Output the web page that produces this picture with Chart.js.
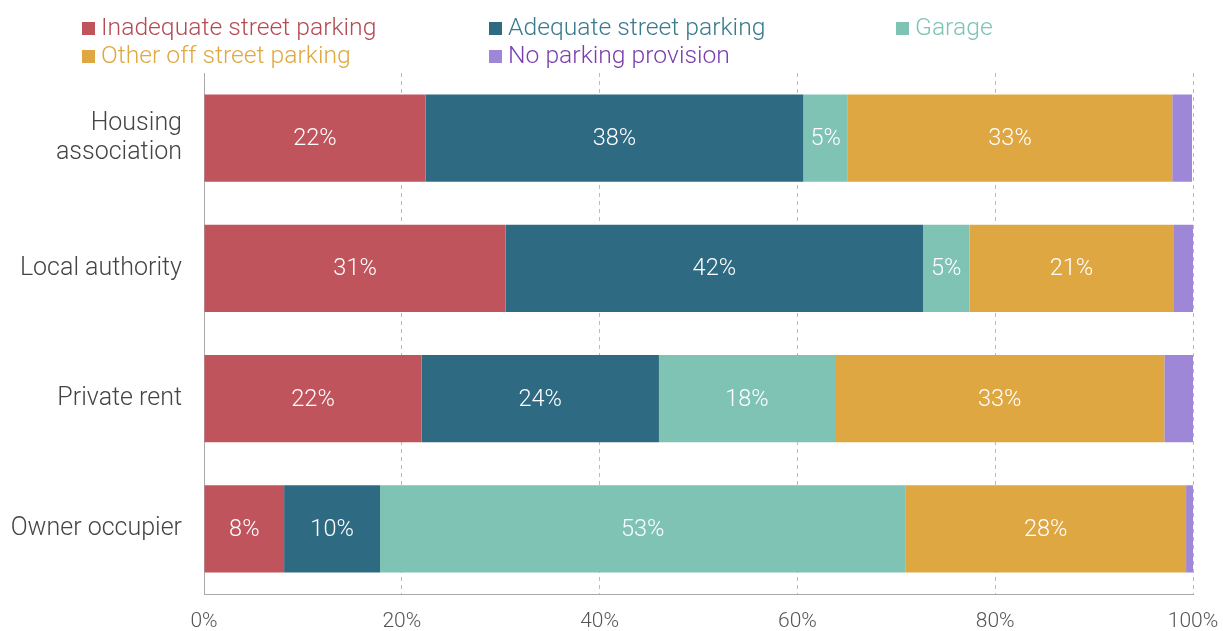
<!DOCTYPE html>
<html>
<head>
<meta charset="utf-8">
<script src="https://cdn.jsdelivr.net/npm/chart.js@4/dist/chart.umd.min.js"></script>
<style>
  body { margin: 0; background: #fff; }
  #wrap { position: relative; width: 1223px; height: 631px; }
  #legend { position: absolute; left: 0; top: 0; width: 1223px; height: 70px; font-family: Roboto, sans-serif; font-weight: 300; font-size: 24.7px; }
  .item { position: absolute; white-space: nowrap; line-height: 28px; }
  .box { display: inline-block; width: 13px; height: 13px; margin-right: 6px; vertical-align: 0px; }
</style>
</head>
<body>
<div id="wrap">
  <canvas id="chart" width="1223" height="631"></canvas>
  <div id="legend"></div>
</div>
<script>
const categories = [["Housing", "association"], "Local authority", "Private rent", "Owner occupier"];
const seriesNames = ["Inadequate street parking", "Adequate street parking", "Garage", "Other off street parking", "No parking provision"];
const inadequate = [22.4, 30.5, 22.0, 8.1];
const adequate = [38.2, 42.2, 24.0, 9.7];
const garage = [4.5, 4.7, 17.8, 53.1];
const otherOff = [32.8, 20.6, 33.3, 28.4];
const noParking = [2.0, 2.0, 2.9, 0.7];
const xTicks = [0, 20, 40, 60, 80, 100];

const barColors = ["#c0545c", "#2e6a82", "#7fc3b5", "#dfa742", "#9d87d6"];
const textColors = ["#b54a53", "#3b7a8e", "#7fc3b5", "#e0a840", "#7a3eb0"];
const legendPos = [[82, 13], [489, 13], [896, 13], [82, 41], [489, 41]];

const legend = document.getElementById("legend");
seriesNames.forEach((name, i) => {
  const d = document.createElement("div");
  d.className = "item";
  d.style.left = legendPos[i][0] + "px";
  d.style.top = legendPos[i][1] + "px";
  d.style.color = textColors[i];
  d.innerHTML = `<span class="box" style="background:${barColors[i]}"></span>${name}`;
  legend.appendChild(d);
});

// fixed axis sizes so the plot area lands where it does in the picture
function noPad(scale) {
  scale.paddingLeft = 0;
  scale.paddingRight = 0;
  scale.paddingTop = 0;
  scale.paddingBottom = 0;
}

const valueLabels = {
  id: "valueLabels",
  afterDatasetsDraw(chart) {
    const ctx = chart.ctx;
    ctx.save();
    ctx.fillStyle = "#fff";
    ctx.font = "300 23.5px Roboto, sans-serif";
    ctx.textAlign = "center";
    ctx.textBaseline = "middle";
    chart.data.datasets.forEach((ds, di) => {
      if (di === 4) return;
      chart.getDatasetMeta(di).data.forEach((bar, i) => {
        const v = ds.data[i];
        const cx = (bar.x + bar.base) / 2;
        ctx.fillText(Math.round(v) + "%", cx, bar.y + 1);
      });
    });
    ctx.restore();
  }
};

const seriesData = [inadequate, adequate, garage, otherOff, noParking];

new Chart(document.getElementById("chart"), {
  type: "bar",
  data: {
    labels: categories,
    datasets: seriesData.map((d, i) => ({
      label: seriesNames[i],
      data: d,
      backgroundColor: barColors[i],
      borderWidth: 0,
      barPercentage: 0.67,
      categoryPercentage: 1
    }))
  },
  options: {
    indexAxis: "y",
    responsive: false,
    animation: false,
    layout: { padding: { top: 73, right: 30, left: 0, bottom: 0 } },
    plugins: {
      legend: { display: false },
      tooltip: { enabled: false }
    },
    scales: {
      x: {
        stacked: true,
        min: 0,
        max: 100,
        afterBuildTicks: (scale) => { scale.ticks = xTicks.map((v) => ({ value: v })); },
        ticks: {
          callback: (v) => v + "%",
          color: "#555",
          font: { family: "Roboto, sans-serif", size: 21, weight: 300 },
          padding: 15,
          maxRotation: 0
        },
        grid: { color: "#bbb", lineWidth: 1, drawTicks: false },
        border: { display: true, color: "#aaa", dash: [4, 4], width: 1 },
        afterFit: (scale) => { scale.height = 37; noPad(scale); }
      },
      y: {
        stacked: true,
        ticks: {
          color: "#444",
          font: { family: "Roboto, sans-serif", size: 25, weight: 300, lineHeight: 1.17 },
          padding: 22
        },
        grid: { display: false, drawTicks: false },
        border: { display: true, color: "#aaa", width: 1 },
        afterFit: (scale) => { scale.width = 204; noPad(scale); }
      }
    }
  },
  plugins: [valueLabels]
});
</script>
</body>
</html>
